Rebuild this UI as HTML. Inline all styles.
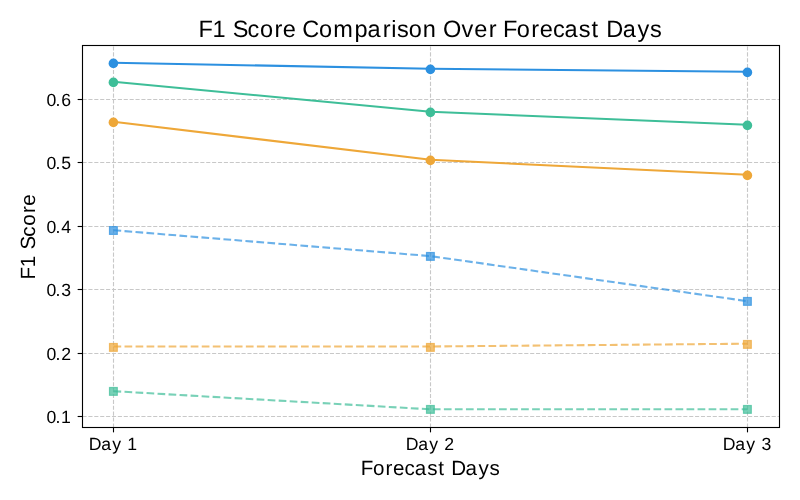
<!DOCTYPE html>
<html><head><meta charset="utf-8"><style>html,body{margin:0;padding:0;background:#fff;width:800px;height:500px;overflow:hidden}svg{display:block}</style></head>
<body>
<svg width="800" height="500" viewBox="0 0 800 500">
<rect width="800" height="500" fill="#fff"/>
<line x1="113.50" y1="427.50" x2="113.50" y2="45.50" stroke="#c8c8c8" stroke-width="1.11" stroke-dasharray="4.11 1.78" fill="none"/>
<line x1="430.50" y1="427.50" x2="430.50" y2="45.50" stroke="#c8c8c8" stroke-width="1.11" stroke-dasharray="4.11 1.78" fill="none"/>
<line x1="747.50" y1="427.50" x2="747.50" y2="45.50" stroke="#c8c8c8" stroke-width="1.11" stroke-dasharray="4.11 1.78" fill="none"/>
<line x1="82.50" y1="99.50" x2="779.50" y2="99.50" stroke="#c8c8c8" stroke-width="1.11" stroke-dasharray="4.11 1.78" fill="none"/>
<line x1="82.50" y1="162.50" x2="779.50" y2="162.50" stroke="#c8c8c8" stroke-width="1.11" stroke-dasharray="4.11 1.78" fill="none"/>
<line x1="82.50" y1="226.50" x2="779.50" y2="226.50" stroke="#c8c8c8" stroke-width="1.11" stroke-dasharray="4.11 1.78" fill="none"/>
<line x1="82.50" y1="289.50" x2="779.50" y2="289.50" stroke="#c8c8c8" stroke-width="1.11" stroke-dasharray="4.11 1.78" fill="none"/>
<line x1="82.50" y1="353.50" x2="779.50" y2="353.50" stroke="#c8c8c8" stroke-width="1.11" stroke-dasharray="4.11 1.78" fill="none"/>
<line x1="82.50" y1="416.50" x2="779.50" y2="416.50" stroke="#c8c8c8" stroke-width="1.11" stroke-dasharray="4.11 1.78" fill="none"/>
<polyline points="113.50,62.75 430.50,68.75 747.50,71.75" fill="none" stroke="#2c90e0" stroke-width="2.08" stroke-linejoin="round"/>
<circle cx="113.40" cy="63.40" r="4.8" fill="#2c90e0"/>
<circle cx="430.40" cy="69.40" r="4.8" fill="#2c90e0"/>
<circle cx="747.40" cy="72.40" r="4.8" fill="#2c90e0"/>
<polyline points="113.50,81.75 430.50,111.75 747.50,124.75" fill="none" stroke="#3ebe98" stroke-width="2.08" stroke-linejoin="round"/>
<circle cx="113.40" cy="82.40" r="4.8" fill="#3ebe98"/>
<circle cx="430.40" cy="112.40" r="4.8" fill="#3ebe98"/>
<circle cx="747.40" cy="125.40" r="4.8" fill="#3ebe98"/>
<polyline points="113.50,121.75 430.50,159.75 747.50,174.75" fill="none" stroke="#eea738" stroke-width="2.08" stroke-linejoin="round"/>
<circle cx="113.40" cy="122.40" r="4.8" fill="#eea738"/>
<circle cx="430.40" cy="160.40" r="4.8" fill="#eea738"/>
<circle cx="747.40" cy="175.40" r="4.8" fill="#eea738"/>
<polyline points="113.50,230.20 430.50,256.10 747.50,301.20" fill="none" stroke="#2c90e0" stroke-opacity="0.70" stroke-width="2.08" stroke-dasharray="7.7 3.33" stroke-linejoin="round"/>
<rect x="109.50" y="226.60" width="7.8" height="7.8" fill="#2c90e0" fill-opacity="0.70" stroke="#2c90e0" stroke-opacity="0.70" stroke-width="1.2"/>
<rect x="426.50" y="252.50" width="7.8" height="7.8" fill="#2c90e0" fill-opacity="0.70" stroke="#2c90e0" stroke-opacity="0.70" stroke-width="1.2"/>
<rect x="743.50" y="297.50" width="7.8" height="7.8" fill="#2c90e0" fill-opacity="0.70" stroke="#2c90e0" stroke-opacity="0.70" stroke-width="1.2"/>
<polyline points="113.50,346.50 430.50,346.50 747.50,343.70" fill="none" stroke="#eea738" stroke-opacity="0.70" stroke-width="2.08" stroke-dasharray="7.7 3.33" stroke-linejoin="round"/>
<rect x="109.50" y="343.50" width="7.8" height="7.8" fill="#eea738" fill-opacity="0.70" stroke="#eea738" stroke-opacity="0.70" stroke-width="1.2"/>
<rect x="426.50" y="343.50" width="7.8" height="7.8" fill="#eea738" fill-opacity="0.70" stroke="#eea738" stroke-opacity="0.70" stroke-width="1.2"/>
<rect x="743.50" y="340.50" width="7.8" height="7.8" fill="#eea738" fill-opacity="0.70" stroke="#eea738" stroke-opacity="0.70" stroke-width="1.2"/>
<polyline points="113.50,391.20 430.50,409.30 747.50,409.30" fill="none" stroke="#3ebe98" stroke-opacity="0.70" stroke-width="2.08" stroke-dasharray="7.7 3.33" stroke-linejoin="round"/>
<rect x="109.50" y="387.50" width="7.8" height="7.8" fill="#3ebe98" fill-opacity="0.70" stroke="#3ebe98" stroke-opacity="0.70" stroke-width="1.2"/>
<rect x="426.50" y="405.50" width="7.8" height="7.8" fill="#3ebe98" fill-opacity="0.70" stroke="#3ebe98" stroke-opacity="0.70" stroke-width="1.2"/>
<rect x="743.50" y="405.50" width="7.8" height="7.8" fill="#3ebe98" fill-opacity="0.70" stroke="#3ebe98" stroke-opacity="0.70" stroke-width="1.2"/>
<rect x="82.50" y="45.50" width="697.00" height="382.00" fill="none" stroke="#000" stroke-width="1.11"/>
<line x1="113.50" y1="427.50" x2="113.50" y2="432.36" stroke="#000" stroke-width="1.11"/>
<line x1="430.50" y1="427.50" x2="430.50" y2="432.36" stroke="#000" stroke-width="1.11"/>
<line x1="747.50" y1="427.50" x2="747.50" y2="432.36" stroke="#000" stroke-width="1.11"/>
<line x1="77.64" y1="99.50" x2="82.50" y2="99.50" stroke="#000" stroke-width="1.11"/>
<line x1="77.64" y1="162.50" x2="82.50" y2="162.50" stroke="#000" stroke-width="1.11"/>
<line x1="77.64" y1="226.50" x2="82.50" y2="226.50" stroke="#000" stroke-width="1.11"/>
<line x1="77.64" y1="289.50" x2="82.50" y2="289.50" stroke="#000" stroke-width="1.11"/>
<line x1="77.64" y1="353.50" x2="82.50" y2="353.50" stroke="#000" stroke-width="1.11"/>
<line x1="77.64" y1="416.50" x2="82.50" y2="416.50" stroke="#000" stroke-width="1.11"/>
<g font-family="Liberation Sans, sans-serif" fill="#000" text-rendering="geometricPrecision" style="will-change:transform">
<text x="46.39 55.52 61.15" y="105.60" font-size="17.664">0.6</text>
<text x="46.39 55.52 61.23" y="168.60" font-size="17.664">0.5</text>
<text x="46.39 55.52 61.26" y="232.60" font-size="17.664">0.4</text>
<text x="46.39 55.52 61.26" y="295.60" font-size="17.664">0.3</text>
<text x="46.39 55.52 61.21" y="359.60" font-size="17.664">0.2</text>
<text x="46.39 55.52 60.97" y="422.60" font-size="17.664">0.1</text>
<text x="88.83 101.17 112.33 115.33 127.28" y="449.90" font-size="17.664">Day&#160;1</text>
<text x="405.83 418.17 429.33 432.33 444.15" y="449.90" font-size="17.664">Day&#160;2</text>
<text x="722.83 735.17 746.33 749.33 761.40" y="449.90" font-size="17.664">Day&#160;3</text>
<text x="360.82 372.97 385.57 392.92 404.55 414.77 427.24 438.21 441.21 451.19 465.58 478.60 489.56" y="474.90" font-size="20.599">Forecast&#160;Days</text>
<text transform="translate(34.90,278.69) rotate(-90)" x="-0.74 11.53 14.53 29.13 42.03 52.98 65.59 72.93" y="0" font-size="20.599">F1&#160;Score</text>
<text x="198.57 212.60 215.60 232.72 247.46 259.98 274.39 282.78 285.78 302.31 318.96 333.37 354.58 367.46 382.73 391.28 397.03 408.80 422.68 425.68 442.88 461.47 474.26 488.67 491.67 502.94 516.83 531.24 539.64 552.93 564.61 578.87 591.41 594.41 606.25 622.69 637.57 650.10" y="36.80" font-size="23.544">F1&#160;Score&#160;Comparison&#160;Over&#160;Forecast&#160;Days</text>
</g>
</svg>
</body></html>
